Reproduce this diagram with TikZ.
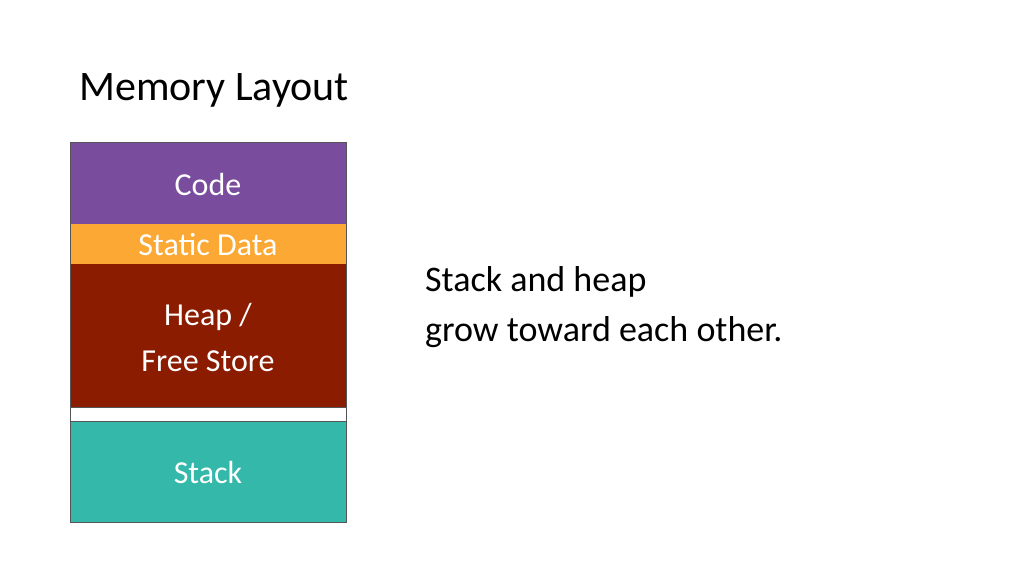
\documentclass[tikz,border=0pt]{standalone}
\usepackage{fontspec}
\setmainfont{Carlito}
\definecolor{codec}{HTML}{7A4C9E}
\definecolor{statc}{HTML}{FBA834}
\definecolor{heapc}{HTML}{8B1C00}
\definecolor{stackc}{HTML}{33B8A9}
\definecolor{edgec}{HTML}{555555}
\begin{document}
\begin{tikzpicture}[x=1pt,y=-1pt,
  seg/.style={draw=edgec,line width=0.8pt},
  lbl/.style={text=white,font=\fontsize{32}{38}\selectfont,align=center}]
\useasboundingbox (0,0) rectangle (1024,576);
\node[anchor=base west,font=\fontsize{42}{48}\selectfont,inner sep=0] (title) at (79,100) {Memory Layout};
\fill[codec] (70,142) rectangle (346,224);
\fill[statc] (70,224) rectangle (346,264);
\fill[heapc] (70,264) rectangle (346,407);
\fill[stackc] (70,421) rectangle (346,522);
\draw[seg] (70,142) rectangle (346,522);
\draw[seg] (70,407) -- (346,407) (70,421) -- (346,421);
\node[lbl] (code) at (208,184) {Code};
\node[lbl] (static) at (208,245) {Static Data};
\node[lbl,font=\fontsize{32}{46}\selectfont] (heap) at (208,337) {Heap /\\Free Store};
\node[lbl] (stack) at (208,472) {Stack};
\node[anchor=north west,align=left,inner sep=0,font=\fontsize{36}{50}\selectfont] (note) at (425,266) {Stack and heap\\grow toward each other.};
\end{tikzpicture}
\end{document}
